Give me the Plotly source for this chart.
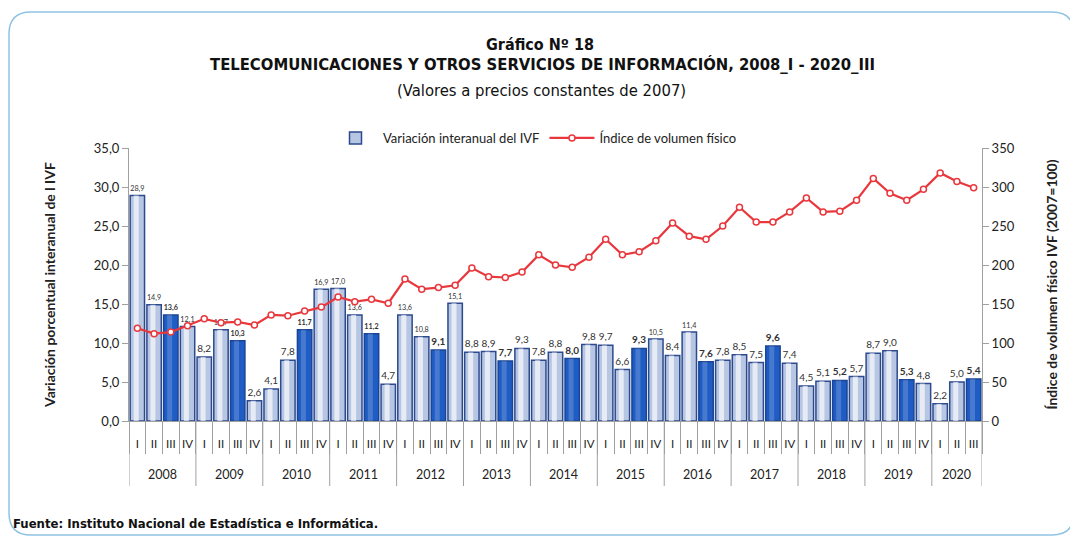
import plotly.graph_objects as go

# Quarterly data 2008_I - 2020_III
years = [str(y) for y in range(2008, 2021)]
quarters = ["I", "II", "III", "IV"]

variacion = [
    28.9, 14.9, 13.6, 12.1,
    8.2, 11.7, 10.3, 2.6,
    4.1, 7.8, 11.7, 16.9,
    17.0, 13.6, 11.2, 4.7,
    13.6, 10.8, 9.1, 15.1,
    8.8, 8.9, 7.7, 9.3,
    7.8, 8.8, 8.0, 9.8,
    9.7, 6.6, 9.3, 10.5,
    8.4, 11.4, 7.6, 7.8,
    8.5, 7.5, 9.6, 7.4,
    4.5, 5.1, 5.2, 5.7,
    8.7, 9.0, 5.3, 4.8,
    2.2, 5.0, 5.4,
]

indice = [
    119, 112, 114, 122,
    131, 126, 127, 123,
    136, 135, 141, 146,
    159, 153, 156, 151,
    182, 169, 171, 174,
    196, 185, 184, 191,
    213, 200, 197, 210,
    233, 213, 217, 231,
    254, 237, 233, 250,
    274, 255, 255, 268,
    286, 268, 269, 283,
    311, 292, 283, 297,
    318, 307, 299,
]

n = len(variacion)
xs = list(range(n))
x_q = [quarters[i % 4] for i in range(n)]

# III quarters are highlighted in dark blue with bold labels
fill = ["#1f5cc4" if q == "III" else "#b7c7e3" for q in x_q]
edge = ["#1a4596" if q == "III" else "#2d4a8e" for q in x_q]
shine = ["rgba(255,255,255,0.18)" if q == "III" else "rgba(255,255,255,0.65)" for q in x_q]
labels = []
for v, q in zip(variacion, x_q):
    s = f"{v:.1f}".replace(".", ",")
    labels.append(f"<b>{s}</b>" if q == "III" else s)

fig = go.Figure()

fig.add_trace(go.Bar(
    x=xs,
    y=variacion,
    width=0.86,
    name="Variación interanual del IVF",
    marker=dict(color=fill, line=dict(color=edge, width=1.5)),
    text=labels,
    textposition="outside",
    textfont=dict(size=10, color="#333333", family="Lato"),
    cliponaxis=False,
))

# light stripe on each bar to imitate the shaded look
fig.add_trace(go.Bar(
    x=xs,
    y=variacion,
    width=0.3,
    offset=-0.22,
    marker=dict(color=shine, line=dict(width=0)),
    showlegend=False,
    hoverinfo="skip",
))

fig.add_trace(go.Scatter(
    x=xs,
    y=indice,
    name="Índice de volumen físico",
    yaxis="y2",
    mode="lines+markers",
    line=dict(color="#e8383d", width=2.2),
    marker=dict(symbol="circle", size=6, color="white",
                line=dict(color="#e8383d", width=1.5)),
))

# page body adds an 8px margin; all positions below are screen pixels
OFF = 8
FW, FH = 1078 - OFF, 537 - OFF
L, R, T, B = 129 - OFF, 982 - OFF, 148 - OFF, 421 - OFF
W, H = R - L, B - T


def px(x):
    return (x - OFF - L) / W


def py(y):
    return (B - (y - OFF)) / H


# rounded frame around the whole graphic
x0, x1, y0, y1 = px(9), px(1074), py(12), py(535)
rx, ry = 22 / W, 22 / H
frame = (f"M {x0 + rx},{y0} L {x1 - rx},{y0} Q {x1},{y0} {x1},{y0 - ry} "
         f"L {x1},{y1 + ry} Q {x1},{y1} {x1 - rx},{y1} "
         f"L {x0 + rx},{y1} Q {x0},{y1} {x0},{y1 + ry} "
         f"L {x0},{y0 - ry} Q {x0},{y0} {x0 + rx},{y0} Z")

shapes = [dict(type="path", path=frame, xref="paper", yref="paper",
               line=dict(color="#8fc3e3", width=1.5), layer="below")]

# year separators and year labels under the quarter labels
annotations = []
for k, yr in enumerate(years):
    start = 4 * k
    end = min(4 * k + 4, n)
    shapes.append(dict(type="line", xref="x", yref="paper",
                       x0=start - 0.5, x1=start - 0.5, y0=0, y1=py(486),
                       line=dict(color="#a0a0a0", width=1)))
    annotations.append(dict(text=yr, x=(start + end - 1) / 2, y=py(474),
                            xref="x", yref="paper", showarrow=False, yanchor="middle",
                            font=dict(size=12.5, family="Lato", color="#222222")))
shapes.append(dict(type="line", xref="x", yref="paper",
                   x0=n - 0.5, x1=n - 0.5, y0=0, y1=py(486),
                   line=dict(color="#a0a0a0", width=1)))

title_font = "DejaVu Sans Condensed, Liberation Sans Narrow, Liberation Sans, Arial"

annotations += [
    dict(text="<b>Gráfico Nº 18</b>", x=px(540), y=py(44), xref="paper", yref="paper",
         showarrow=False, xanchor="center", yanchor="middle",
         font=dict(size=16, family=title_font, color="#111111")),
    dict(text="<b>TELECOMUNICACIONES Y OTROS SERVICIOS DE INFORMACIÓN, 2008_I - 2020_III</b>",
         x=px(542), y=py(65), xref="paper", yref="paper",
         showarrow=False, xanchor="center", yanchor="middle",
         font=dict(size=16.5, family=title_font, color="#111111")),
    dict(text="(Valores a precios constantes de 2007)", x=px(541), y=py(90),
         xref="paper", yref="paper",
         showarrow=False, xanchor="center", yanchor="middle",
         font=dict(size=16.5, family=title_font, color="#111111")),
    dict(text="<b>Fuente: Instituto Nacional de Estadística e Informática.</b>",
         x=px(11), y=py(523), xref="paper", yref="paper", xanchor="left", yanchor="middle",
         showarrow=False, font=dict(size=13, family=title_font, color="#111111")),
]

fig.update_layout(
    width=FW, height=FH,
    margin=dict(l=L, r=FW - R, t=T, b=FH - B, autoexpand=False),
    paper_bgcolor="white",
    plot_bgcolor="white",
    separators=",.",
    barmode="overlay",
    font=dict(family="Lato, Open Sans, sans-serif", size=11, color="#222222"),
    showlegend=True,
    legend=dict(orientation="h", x=px(535), xanchor="center", y=py(138), yanchor="middle",
                font=dict(size=13, family="Lato"), bgcolor="rgba(0,0,0,0)",
                traceorder="normal", itemwidth=45),
    xaxis=dict(
        automargin=False,
        range=[-0.5, n - 0.5],
        tickvals=xs, ticktext=x_q,
        ticks="outside", ticklen=12, tickcolor="rgba(0,0,0,0)",
        minor=dict(tickvals=[i - 0.5 for i in range(n + 1)], ticks="outside",
                   ticklen=32, tickcolor="#a0a0a0", showgrid=False),
        showline=True, linecolor="#a0a0a0", linewidth=1,
        tickfont=dict(size=11.5, family="Lato", color="#222222"),
        showgrid=False, zeroline=False,
    ),
    yaxis=dict(
        automargin=False,
        range=[0, 35], tickvals=[0, 5, 10, 15, 20, 25, 30, 35],
        tickformat=".1f",
        showline=True, linecolor="#a0a0a0", ticks="outside", tickcolor="#a0a0a0", ticklen=6,
        showgrid=False, zeroline=False,
        tickfont=dict(size=13, family="Lato"),
        title=dict(text="<b>Variación porcentual interanual de l IVF</b>",
                   font=dict(size=14, family="Lato"), standoff=34),
    ),
    yaxis2=dict(
        automargin=False,
        overlaying="y", side="right",
        range=[0, 350], tickvals=[0, 50, 100, 150, 200, 250, 300, 350],
        showline=True, linecolor="#a0a0a0", ticks="outside", tickcolor="#a0a0a0", ticklen=6,
        showgrid=False, zeroline=False,
        tickfont=dict(size=13, family="Lato"),
        title=dict(text="<b>Índice de volumen físico IVF (2007=100)</b>",
                   font=dict(size=14, family="Lato"), standoff=33),
    ),
    shapes=shapes,
    annotations=annotations,
)

fig.write_html("out.html")
